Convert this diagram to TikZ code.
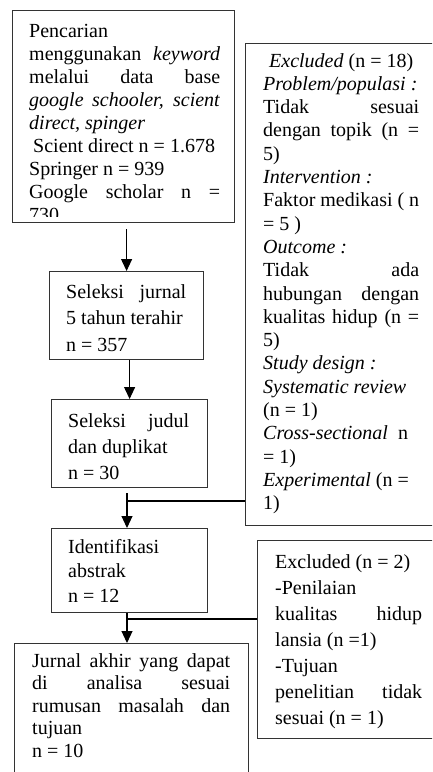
\documentclass[tikz,border=0pt]{standalone}
\usepackage{fontspec}
\setmainfont{Liberation Serif}
\usetikzlibrary{arrows.meta}

\definecolor{boxgray}{HTML}{333333}
\tolerance=10000
\hyphenpenalty=10000

\newcommand{\bodyfont}[1]{\fontsize{20}{#1}\selectfont}

\tikzset{
    box/.style={draw=boxgray,line width=1.2pt,anchor=north west,inner sep=0pt},
    txt/.style={anchor=base west,inner sep=0pt,align=justify},
    arr/.style={line width=1.1pt,-{Triangle[width=11pt,length=12pt]}},
    link/.style={line width=1.1pt}
}

\begin{document}
\begin{tikzpicture}[x=1pt,y=1pt]
    \path[use as bounding box,clip] (0,0) rectangle (432,-772);
    \fill[white] (0,0) rectangle (432,-772);

    % Search box (text runs past the bottom edge)
    \begin{scope}
        \clip (12,-10) rectangle (234,-216);
        \node [txt,text width=191pt,font=\bodyfont{23}] (searchtext) at (29,-37) {%
            Pencarian\newline
            menggunakan \emph{keyword}\linebreak
            melalui data base\linebreak
            \emph{google schooler, scient}\linebreak
            \emph{direct, spinger}\newline
            \hspace*{4pt}Scient direct n = 1.678\newline
            Springer n = 939\newline
            Google scholar n =\linebreak
            730};
    \end{scope}
    \node [box,minimum width=222pt,minimum height=212pt] (search) at (12,-10) {};

    % Selection steps
    \node [box,minimum width=154pt,minimum height=88pt] (jurnal) at (49,-271) {};
    \node [txt,text width=120pt,font=\bodyfont{26.5}] (jurnaltext) at (66,-298) {%
        Seleksi jurnal\linebreak
        5 tahun terahir\newline
        n = 357};

    \node [box,minimum width=156pt,minimum height=88pt] (judul) at (51,-399) {};
    \node [txt,text width=121pt,font=\bodyfont{26}] (judultext) at (68,-427) {%
        Seleksi judul\linebreak
        dan duplikat\newline
        n = 30};

    \node [box,minimum width=156pt,minimum height=84pt] (abstrak) at (51,-528) {};
    \node [txt,text width=121pt,font=\bodyfont{24.5}] (abstraktext) at (68,-553) {%
        Identifikasi\newline
        abstrak\newline
        n = 12};

    \node [box,minimum width=234pt,minimum height=140pt] (final) at (14,-643) {};
    \node [txt,text width=198pt,font=\bodyfont{22.5}] (finaltext) at (32,-667) {%
        Jurnal akhir yang dapat\linebreak
        di analisa sesuai\linebreak
        rumusan masalah dan\linebreak
        tujuan\newline
        n = 10};

    % Exclusion boxes
    \node [box,minimum width=200pt,minimum height=482pt] (excla) at (245,-43) {};
    \node [txt,text width=156pt,font=\bodyfont{23.3}] (exclatext) at (263,-67) {%
        \hspace*{6pt}\emph{Excluded} (n = 18)\newline
        \emph{Problem/populasi :}\newline
        Tidak sesuai\linebreak
        dengan topik (n =\linebreak
        5)\newline
        \emph{Intervention :}\newline
        Faktor medikasi ( n\linebreak
        = 5 )\newline
        \emph{Outcome :}\newline
        Tidak ada\linebreak
        hubungan dengan\linebreak
        kualitas hidup (n =\linebreak
        5)\newline
        \emph{Study design :}\newline
        \emph{Systematic review}\newline
        (n = 1)\newline
        \emph{Cross-sectional}\ \ n\newline
        = 1)\newline
        \emph{Experimental} (n =\newline
        1)};

    \node [box,minimum width=190pt,minimum height=198pt] (exclb) at (257,-540) {};
    \node [txt,text width=147pt,font=\bodyfont{26}] (exclbtext) at (275,-568) {%
        Excluded (n = 2)\newline
        -Penilaian\newline
        kualitas hidup\linebreak
        lansia (n =1)\newline
        -Tujuan\newline
        penelitian tidak\linebreak
        sesuai (n = 1)};

    % Connectors
    \coordinate (splita) at (127,-501);
    \coordinate (splitb) at (127,-619);
    \draw[arr,shorten <=6pt] (search.south -| jurnal.north) -- (jurnal.north);
    \draw[arr] (jurnal.south -| judul.north) -- (judul.north);
    \draw[arr,shorten <=5pt] (judul.south -| splita) -- (splita |- abstrak.north);
    \draw[link] (splita) -- (splita -| excla.west);
    \draw[arr] (abstrak.south -| splitb) -- (splitb |- final.north);
    \draw[link] (splitb) -- (splitb -| exclb.west);
\end{tikzpicture}
\end{document}
